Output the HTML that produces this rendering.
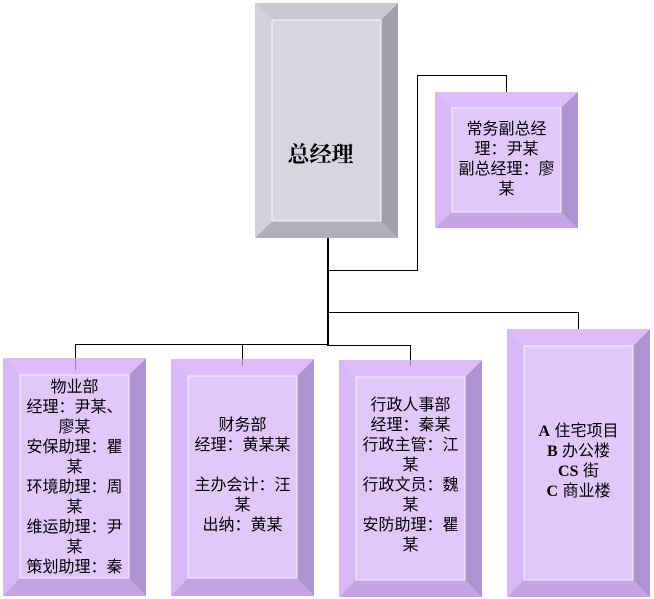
<!DOCTYPE html>
<html><head><meta charset="utf-8"><style>
html,body{margin:0;padding:0;background:#fff;}
body{width:654px;height:599px;position:relative;overflow:hidden;font-family:"Liberation Serif","Noto Serif CJK SC","Noto Sans CJK SC",serif;}
.t{position:absolute;text-align:center;font-size:16px;line-height:20px;color:#000;overflow:hidden;font-family:"Liberation Sans","Noto Sans CJK SC",sans-serif;}
.t b{font-family:"Liberation Serif",serif;font-weight:bold;}
</style></head><body>
<svg width="654" height="599" style="position:absolute;left:0;top:0">
<g stroke="#000" stroke-width="1" fill="none" shape-rendering="crispEdges">
<line x1="327.5" y1="238" x2="327.5" y2="345"/>
<line x1="328.5" y1="238" x2="328.5" y2="345"/>
<polyline points="327.5,270.5 417.5,270.5 417.5,75.5 506.5,75.5 506.5,92"/>
<polyline points="327.5,312.5 578.5,312.5 578.5,329"/>
<polyline points="75.5,360 75.5,344.5 328,344.5"/>
<polyline points="327,345.5 410.5,345.5 410.5,360"/>
<line x1="242.5" y1="345" x2="242.5" y2="360"/>
</g>
<g shape-rendering="crispEdges">
<polygon points="255,3 398,3 381,20 272,20" fill="#c8c8d4"/>
<polygon points="255,3 272,20 272,221 255,238" fill="#d2d2dc"/>
<polygon points="398,3 398,238 381,221 381,20" fill="#a0a0ac"/>
<polygon points="255,238 272,221 381,221 398,238" fill="#b0b0bc"/>
<rect x="272" y="20" width="109" height="201" fill="#d6d6e0" stroke="#f4f4f8" stroke-width="1"/>
</g>
<g shape-rendering="crispEdges">
<polygon points="435,92 578,92 561,108 452,108" fill="#dcbcf9"/>
<polygon points="435,92 452,108 452,212 435,228" fill="#d8b8f4"/>
<polygon points="578,92 578,228 561,212 561,108" fill="#ae94cf"/>
<polygon points="435,228 452,212 561,212 578,228" fill="#c4a4e4"/>
<rect x="452" y="108" width="109" height="104" fill="#e0c8fb" stroke="#f6eeff"/>
<polygon points="3,358 146,358 129,375 20,375" fill="#dcbcf9"/>
<polygon points="3,358 20,375 20,578 3,596" fill="#d8b8f4"/>
<polygon points="146,358 146,596 129,578 129,375" fill="#ae94cf"/>
<polygon points="3,596 20,578 129,578 146,596" fill="#c4a4e4"/>
<rect x="20" y="375" width="109" height="203" fill="#e0c8fb" stroke="#f6eeff"/>
<polygon points="171,359 314,359 297,376 188,376" fill="#dcbcf9"/>
<polygon points="171,359 188,376 188,578 171,596" fill="#d8b8f4"/>
<polygon points="314,359 314,596 297,578 297,376" fill="#ae94cf"/>
<polygon points="171,596 188,578 297,578 314,596" fill="#c4a4e4"/>
<rect x="188" y="376" width="109" height="202" fill="#e0c8fb" stroke="#f6eeff"/>
<polygon points="339,360 482,360 465,377 356,377" fill="#dcbcf9"/>
<polygon points="339,360 356,377 356,580 339,597" fill="#d8b8f4"/>
<polygon points="482,360 482,597 465,580 465,377" fill="#ae94cf"/>
<polygon points="339,597 356,580 465,580 482,597" fill="#c4a4e4"/>
<rect x="356" y="377" width="109" height="203" fill="#e0c8fb" stroke="#f6eeff"/>
<polygon points="507,329 650,329 633,346 524,346" fill="#dcbcf9"/>
<polygon points="507,329 524,346 524,580 507,597" fill="#d8b8f4"/>
<polygon points="650,329 650,597 633,580 633,346" fill="#ae94cf"/>
<polygon points="507,597 524,580 633,580 650,597" fill="#c4a4e4"/>
<rect x="524" y="346" width="109" height="234" fill="#e0c8fb" stroke="#f6eeff"/>
</g>
<g stroke="#a080c0" stroke-width="1" shape-rendering="crispEdges">
<line x1="75.5" y1="358" x2="75.5" y2="370"/>
<line x1="242.5" y1="359" x2="242.5" y2="366"/>
<line x1="410.5" y1="360" x2="410.5" y2="366"/>
</g>
</svg>
<div class="t" style="left:266px;top:140px;width:109px;font-size:22px;line-height:30px;font-weight:bold;font-family:'Liberation Serif','Noto Serif CJK SC',serif;">总经理</div>
<div class="t" style="left:452px;top:120px;width:109px;">常务副总经<br>理：尹某<br>副总经理：廖<br>某</div>
<div class="t" style="left:20px;top:377px;width:109px;height:200px;"><div style="padding-top:1px">物业部<br>经理：尹某、<br>廖某<br>安保助理：瞿<br>某<br>环境助理：周<br>某<br>维运助理：尹<br>某<br>策划助理：秦</div></div>
<div class="t" style="left:188px;top:416px;width:109px;">财务部<br>经理：黄某某<br>&nbsp;<br>主办会计：汪<br>某<br>出纳：黄某</div>
<div class="t" style="left:356px;top:396px;width:109px;">行政人事部<br>经理：秦某<br>行政主管：江<br>某<br>行政文员：魏<br>某<br>安防助理：瞿<br>某</div>
<div class="t" style="left:524px;top:422px;width:109px;"><b>A</b> 住宅项目<br><b>B</b> 办公楼<br><b>CS</b> 街<br><b>C</b> 商业楼</div>
</body></html>
